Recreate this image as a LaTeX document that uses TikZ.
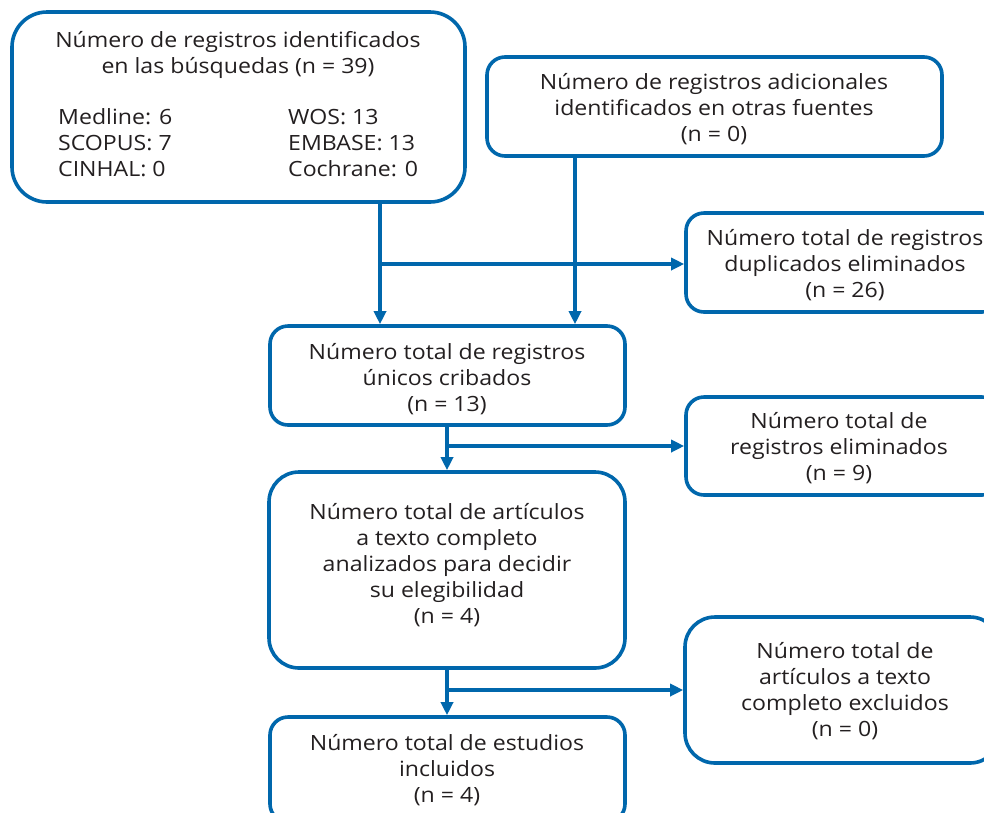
\documentclass[tikz,border=0pt]{standalone}
\usepackage{fontspec}
\setmainfont[FakeStretch=1.1]{Open Sans}
\usetikzlibrary{arrows.meta}
\definecolor{pblue}{RGB}{0,103,172}
\definecolor{ptext}{RGB}{35,31,32}
\begin{document}
\begin{tikzpicture}[x=1pt,y=-1pt,
  box/.style={draw=pblue, line width=3.6pt, fill=white, rounded corners=#1, inner sep=0pt},
  box/.default=18pt,
  lbl/.style={align=center, font=\fontsize{21}{26}\selectfont, text=ptext, inner sep=0pt},
  conn/.style={draw=pblue, line width=3.4pt, -{Triangle[length=13pt,width=12pt]}}]
\useasboundingbox (0,0) rectangle (984,812);
% boxes
\node[box=35pt, minimum width=453pt, minimum height=190pt] (b1) at (238.5,107) {};
\node[box, minimum width=455pt, minimum height=99pt] (b2) at (714.5,106.5) {};
\node[box, minimum width=314pt, minimum height=99pt] (b3) at (843,262.5) {};
\node[box, minimum width=355pt, minimum height=99pt] (b4) at (447.5,375.5) {};
\node[box, minimum width=314pt, minimum height=98pt] (b5) at (843,446) {};
\node[box=30pt, minimum width=356pt, minimum height=196pt] (b6) at (447,570) {};
\node[box=30pt, minimum width=315pt, minimum height=146pt] (b7) at (842.5,690) {};
\node[box, minimum width=355pt, minimum height=105pt] (b8) at (447.5,769.5) {};
% texts
\node[lbl] (t1) at (238,54.5) {Número de registros identificados\\en las búsquedas (n = 39)};
\node[lbl, align=left, anchor=west] (t1a) at (58,143) {Medline: 6\\SCOPUS: 7\\CINHAL: 0};
\node[lbl, align=left, anchor=west] (t1b) at (288,143) {WOS: 13\\EMBASE: 13\\Cochrane: 0};
\node[lbl] (t2) at (714,109) {Número de registros adicionales\\identificados en otras fuentes\\(n = 0)};
\node[lbl] (t3) at (845,265) {Número total de registros\\duplicados eliminados\\(n = 26)};
\node[lbl] (t4) at (447,379) {Número total de registros\\únicos cribados\\(n = 13)};
\node[lbl] (t5) at (839,448) {Número total de\\registros eliminados\\(n = 9)};
\node[lbl] (t6) at (447,565) {Número total de artículos\\a texto completo\\analizados para decidir\\su elegibilidad\\(n = 4)};
\node[lbl] (t7) at (845,691) {Número total de\\artículos a texto\\completo excluidos\\(n = 0)};
\node[lbl] (t8) at (447,770) {Número total de estudios\\incluidos\\(n = 4)};
% connectors
\coordinate (xa) at (380,0);
\coordinate (xb) at (575,0);
\coordinate (xc) at (447,0);
\coordinate (j1) at (380,264);
\coordinate (j2) at (447,446);
\coordinate (j3) at (447,690);
\draw[conn] (b1.south -| xa) -- (b4.north -| xa);
\draw[conn] (b2.south -| xb) -- (b4.north -| xb);
\draw[conn] (j1) -- (j1 -| b3.west);
\draw[conn] (b4.south -| xc) -- (b6.north -| xc);
\draw[conn] (j2) -- (j2 -| b5.west);
\draw[conn] (b6.south -| xc) -- (b8.north -| xc);
\draw[conn] (j3) -- (j3 -| b7.west);
\end{tikzpicture}
\end{document}
